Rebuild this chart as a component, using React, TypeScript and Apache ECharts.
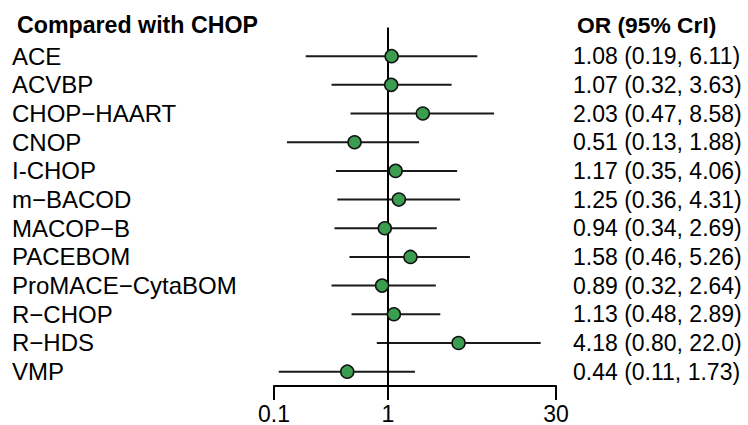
import React, { useEffect, useRef } from "react";
import * as echarts from "echarts";

const treatments = [
  "ACE",
  "ACVBP",
  "CHOP\u2212HAART",
  "CNOP",
  "I-CHOP",
  "m\u2212BACOD",
  "MACOP\u2212B",
  "PACEBOM",
  "ProMACE\u2212CytaBOM",
  "R\u2212CHOP",
  "R\u2212HDS",
  "VMP",
];
const oddsRatio = [1.08, 1.07, 2.03, 0.51, 1.17, 1.25, 0.94, 1.58, 0.89, 1.13, 4.18, 0.44];
const lower = [0.19, 0.32, 0.47, 0.13, 0.35, 0.36, 0.34, 0.46, 0.32, 0.48, 0.8, 0.11];
const upper = [6.11, 3.63, 8.58, 1.88, 4.06, 4.31, 2.69, 5.26, 2.64, 2.89, 22.0, 1.73];
const orLabels = [
  "1.08 (0.19, 6.11)",
  "1.07 (0.32, 3.63)",
  "2.03 (0.47, 8.58)",
  "0.51 (0.13, 1.88)",
  "1.17 (0.35, 4.06)",
  "1.25 (0.36, 4.31)",
  "0.94 (0.34, 2.69)",
  "1.58 (0.46, 5.26)",
  "0.89 (0.32, 2.64)",
  "1.13 (0.48, 2.89)",
  "4.18 (0.80, 22.0)",
  "0.44 (0.11, 1.73)",
];
const xTicks = [0.1, 1, 30];
const leftHeader = "Compared with CHOP";
const rightHeader = "OR (95% CrI)";

const FONT = "'Liberation Sans', Arial, Helvetica, sans-serif";

export default function App() {
  const ref = useRef<HTMLDivElement>(null);
  useEffect(() => {
    if (!ref.current) return;
    const chart = echarts.init(ref.current, null, { renderer: "svg" });
    const rows = treatments.map((_, i) => i);
    chart.setOption({
      animation: false,
      backgroundColor: "#ffffff",
      textStyle: { fontFamily: FONT },
      title: [
        {
          text: leftHeader,
          left: 12,
          top: 8,
          textStyle: { fontFamily: FONT, fontSize: 23.2, fontWeight: "bold", color: "#000" },
        },
        {
          text: rightHeader,
          left: 572,
          top: 8,
          textStyle: { fontFamily: FONT, fontSize: 22.8, fontWeight: "bold", color: "#000" },
        },
      ],
      grid: { left: 274, right: 192, top: 27.5, height: 358.5, containLabel: false },
      xAxis: {
        type: "log",
        logBase: 10,
        min: 0.1,
        max: 30,
        axisLine: { show: true, onZero: false, lineStyle: { color: "#000", width: 2 } },
        axisTick: {
          show: true,
          length: 14,
          inside: false,
          customValues: xTicks,
          lineStyle: { color: "#000", width: 2 },
        },
        axisLabel: {
          customValues: xTicks,
          formatter: (v: number) => (Math.abs(v - 0.1) < 1e-9 ? "0.1" : String(Math.round(v))),
          fontSize: 23,
          color: "#000",
          fontFamily: FONT,
          margin: 16,
        },
        splitLine: { show: false },
        minorTick: { show: false },
      },
      yAxis: [
        {
          type: "value",
          min: -1,
          max: 11.5,
          inverse: true,
          position: "left",
          axisLine: { show: false },
          axisTick: { show: false },
          splitLine: { show: false },
          axisLabel: {
            customValues: rows,
            formatter: (v: number) => treatments[Math.round(v)] ?? "",
            align: "left",
            margin: 262,
            fontSize: 24,
            color: "#000",
            fontFamily: FONT,
          },
        },
        {
          type: "value",
          min: -1,
          max: 11.5,
          inverse: true,
          position: "right",
          axisLine: { show: false },
          axisTick: { show: false },
          splitLine: { show: false },
          axisLabel: {
            customValues: rows,
            formatter: (v: number) => orLabels[Math.round(v)] ?? "",
            align: "left",
            margin: 17,
            fontSize: 23,
            color: "#000",
            fontFamily: FONT,
          },
        },
      ],
      series: [
        {
          type: "custom",
          xAxisIndex: 0,
          yAxisIndex: 0,
          encode: { x: [0, 1], y: 2 },
          data: rows.map((i) => [lower[i], upper[i], i]),
          renderItem: (params: any, api: any) => {
            const y = api.value(2);
            const p1 = api.coord([api.value(0), y]);
            const p2 = api.coord([api.value(1), y]);
            return {
              type: "line",
              shape: { x1: p1[0], y1: p1[1], x2: p2[0], y2: p2[1] },
              style: { stroke: "#1a1a1a", lineWidth: 2 },
            };
          },
          z: 2,
        },
        {
          type: "scatter",
          xAxisIndex: 0,
          yAxisIndex: 0,
          data: rows.map((i) => [oddsRatio[i], i]),
          symbol: "circle",
          symbolSize: 13,
          itemStyle: { color: "#3a9d4f", borderColor: "#111", borderWidth: 1.5, opacity: 1 },
          z: 4,
          markLine: {
            silent: true,
            symbol: "none",
            label: { show: false },
            lineStyle: { color: "#000", width: 2, type: "solid" },
            data: [{ xAxis: 1 }],
            z: 3,
          },
        },
      ],
    });
    return () => chart.dispose();
  }, []);
  return (
    <div
      ref={ref}
      style={{ position: "fixed", left: 0, top: 0, width: 748, height: 425, background: "#fff" }}
    />
  );
}
